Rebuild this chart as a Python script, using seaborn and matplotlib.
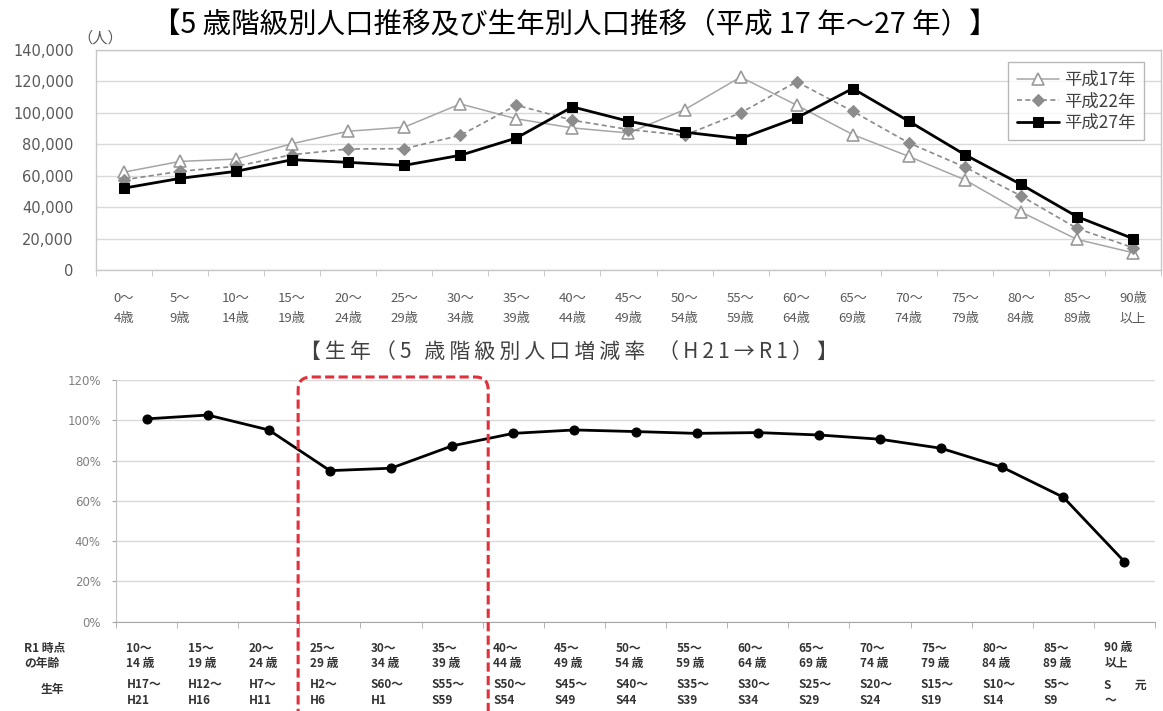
import numpy as np
import pandas as pd
import matplotlib
matplotlib.use('Agg')
import matplotlib.pyplot as plt
import seaborn as sns
from matplotlib.patches import FancyBboxPatch
from matplotlib.transforms import blended_transform_factory, IdentityTransform

sns.set_style('white')
plt.rcParams['font.family'] = ['Noto Sans CJK JP', 'DejaVu Sans']

# ---- top chart: population by 5-year age group ----
age_groups = ['0～\n4歳', '5～\n9歳', '10～\n14歳', '15～\n19歳', '20～\n24歳', '25～\n29歳',
              '30～\n34歳', '35～\n39歳', '40～\n44歳', '45～\n49歳', '50～\n54歳', '55～\n59歳',
              '60～\n64歳', '65～\n69歳', '70～\n74歳', '75～\n79歳', '80～\n84歳', '85～\n89歳',
              '90歳\n以上']
h17 = [62300, 69100, 70600, 80400, 88300, 90900, 105700, 96200, 90400, 87200,
       102000, 122800, 104900, 86200, 72300, 57400, 37000, 19500, 11000]
h22 = [57400, 62800, 66000, 73400, 77000, 77200, 85700, 104900, 95300, 89400,
       85700, 100000, 119800, 101000, 80900, 65500, 47200, 26500, 14200]
h27 = [52100, 58300, 62800, 70200, 68500, 66600, 73000, 84000, 103800, 94700,
       87700, 83600, 96800, 115500, 94700, 73400, 54500, 34000, 20000]

# ---- bottom chart: change rate by birth cohort (H21 -> R1) ----
r1_age_from = ['10～', '15～', '20～', '25～', '30～', '35～', '40～', '45～', '50～',
               '55～', '60～', '65～', '70～', '75～', '80～', '85～', '90 歳']
r1_age_to = ['14 歳', '19 歳', '24 歳', '29 歳', '34 歳', '39 歳', '44 歳', '49 歳', '54 歳',
             '59 歳', '64 歳', '69 歳', '74 歳', '79 歳', '84 歳', '89 歳', '以上']
birth_from = ['H17～', 'H12～', 'H7～', 'H2～', 'S60～', 'S55～', 'S50～', 'S45～', 'S40～',
              'S35～', 'S30～', 'S25～', 'S20～', 'S15～', 'S10～', 'S5～', 'S　　元']
birth_to = ['H21', 'H16', 'H11', 'H6', 'H1', 'S59', 'S54', 'S49', 'S44',
            'S39', 'S34', 'S29', 'S24', 'S19', 'S14', 'S9', '～']
change_rate = [100.7, 102.6, 95.2, 75.0, 76.2, 87.3, 93.5, 95.2, 94.4,
               93.5, 93.9, 92.7, 90.6, 86.1, 76.7, 61.8, 29.8]

top_df = pd.DataFrame({'pos': np.arange(len(age_groups)), 'h17': h17, 'h22': h22, 'h27': h27})
bot_df = pd.DataFrame({'pos': np.arange(len(change_rate)), 'rate': change_rate})

W, H = 1163, 711
fig = plt.figure(figsize=(W / 100, H / 100), dpi=100)
ax1 = fig.add_axes([96 / W, 1 - 270 / H, (1161 - 96) / W, 220 / H])
ax2 = fig.add_axes([116 / W, 1 - 621.7 / H, (1155 - 116) / W, 241.7 / H])

# top chart lines
sns.lineplot(data=top_df, x='pos', y='h17', ax=ax1, color='#a6a6a6', lw=1.1,
             marker='^', markersize=8.5, markerfacecolor='white', markeredgecolor='#9a9a9a',
             markeredgewidth=1.2, label='平成17年', zorder=3)
sns.lineplot(data=top_df, x='pos', y='h22', ax=ax1, color='#8a8a8a', lw=1.2, linestyle=(0, (3, 2)),
             marker='D', markersize=6, markerfacecolor='#8c8c8c', markeredgecolor='#8c8c8c',
             label='平成22年', zorder=4)
sns.lineplot(data=top_df, x='pos', y='h27', ax=ax1, color='black', lw=2,
             marker='s', markersize=7, markerfacecolor='black', markeredgecolor='black',
             label='平成27年', zorder=5)

ax1.set_xlim(-0.5, len(age_groups) - 0.5)
ax1.set_ylim(0, 140000)
ax1.set_yticks(np.arange(0, 140001, 20000))
ax1.set_yticklabels([f'{v:,}' for v in range(0, 140001, 20000)], fontsize=10.5, color='#595959',
                    family='DejaVu Sans')
ax1.set_xticks(top_df['pos'])
ax1.set_xticklabels(age_groups, fontsize=9.5, color='#595959', linespacing=1.7)
ax1.set_xticks(np.arange(-0.5, len(age_groups)), minor=True)
ax1.tick_params(axis='x', which='major', length=0, pad=16)
ax1.tick_params(axis='x', which='minor', length=4, color='#c0c0c0', bottom=True)
ax1.tick_params(axis='y', length=0, pad=16)
ax1.grid(axis='y', color='#d9d9d9', lw=1)
ax1.set_axisbelow(True)
for s in ax1.spines.values():
    s.set_color('#c8c8c8')
    s.set_linewidth(1)
ax1.set_xlabel('')
ax1.set_ylabel('')
leg = ax1.legend(loc='upper right', bbox_to_anchor=(0.984, 0.945), frameon=True, fancybox=False,
                 edgecolor='#a6a6a6', fontsize=12.5, handlelength=2.4, borderpad=0.5,
                 labelspacing=0.2, handletextpad=0.3, borderaxespad=0)
leg.get_frame().set_linewidth(1)
for t in leg.get_texts():
    t.set_color('#404040')

fig.text(100 / W, 1 - 38 / H, '（人）', ha='center', va='center', fontsize=11, color='#595959')
fig.text(575 / W, 1 - 25 / H, '【5 歳階級別人口推移及び生年別人口推移（平成 17 年～27 年）】',
         ha='center', va='center', fontsize=20.5, color='black')

# bottom chart
sns.lineplot(data=bot_df, x='pos', y='rate', ax=ax2, color='black', lw=2,
             marker='o', markersize=6.5, markerfacecolor='black', markeredgecolor='black', zorder=3)
ax2.set_xlim(-0.5, len(change_rate) - 0.5)
ax2.set_ylim(0, 120)
ax2.set_yticks(np.arange(0, 121, 20))
ax2.set_yticklabels([f'{v}%' for v in range(0, 121, 20)], fontsize=8.5, color='#7f7f7f',
                    family='DejaVu Sans')
ax2.set_xticks(bot_df['pos'])
ax2.set_xticklabels([])
ax2.set_xticks(np.arange(-0.5, len(change_rate)), minor=True)
ax2.tick_params(axis='x', which='major', length=0)
ax2.tick_params(axis='x', which='minor', length=4, color='#a6a6a6', bottom=True)
ax2.tick_params(axis='y', length=3, color='#a6a6a6', pad=8, left=True)
ax2.grid(axis='y', color='#d9d9d9', lw=1)
ax2.set_axisbelow(True)
sns.despine(ax=ax2)
ax2.spines['left'].set_color('#bfbfbf')
ax2.spines['bottom'].set_color('#a6a6a6')
ax2.set_xlabel('')
ax2.set_ylabel('')

# wide letter spacing as in the original heading
sub_title = '\u2009'.join('【生年（5 歳階級別人口増減率 （H21→R1）】')
fig.text(569 / W, 1 - 352 / H, sub_title, ha='center', va='center', fontsize=15, color='#404040')

# label table under the bottom chart
trans = blended_transform_factory(ax2.transData, fig.transFigure)
rows = [(r1_age_from, 648), (r1_age_to, 663), (birth_from, 685), (birth_to, 700)]
for labels, ypx in rows:
    for i, lab in enumerate(labels):
        ax2.text(i - 0.33, 1 - ypx / H, lab, transform=trans, ha='left', va='center',
                 fontsize=8.5, color='#333333', fontweight='bold', clip_on=False)
fig.text(24 / W, 1 - 648 / H, 'R1 時点', ha='left', va='center', fontsize=8.5,
         color='#333333', fontweight='bold')
fig.text(24 / W, 1 - 663 / H, 'の年齢', ha='left', va='center', fontsize=8.5,
         color='#333333', fontweight='bold')
fig.text(52 / W, 1 - 690 / H, '生年', ha='center', va='center', fontsize=8.5,
         color='#333333', fontweight='bold')

# red dashed highlight box (25~39 years)
x0, y0 = ax2.transData.transform((2.48, 121.5))
x1, _ = ax2.transData.transform((5.59, 121.5))
box = FancyBboxPatch((x0, -60), x1 - x0, y0 + 60, boxstyle='round,pad=0,rounding_size=13',
                     transform=IdentityTransform(), fill=False, edgecolor='#e0303c',
                     lw=2.2, linestyle=(0, (3, 1.4)), zorder=10)
fig.add_artist(box)

fig.savefig('out.png', dpi=100)
